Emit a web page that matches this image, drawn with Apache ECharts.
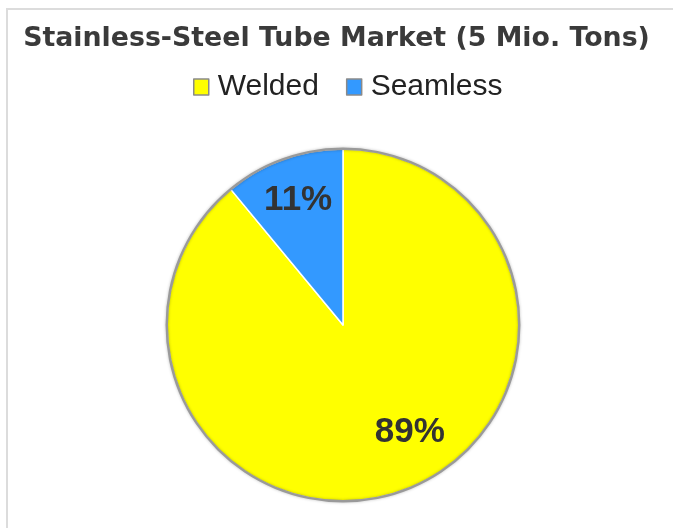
<!DOCTYPE html>
<html>
<head>
<meta charset="utf-8">
<script src="https://cdn.jsdelivr.net/npm/echarts@6/dist/echarts.min.js"></script>
<style>
  html, body { margin: 0; padding: 0; background: #fff; }
  #main { width: 673px; height: 528px; }
</style>
</head>
<body>
<div id="main"></div>
<script>
// 数据
var categories = ['Welded', 'Seamless'];
var shares = [89, 11];
var colorList = ['#ffff00', '#3399ff'];

var myChart = echarts.init(document.getElementById('main'));
var option = {
  animation: false,
  color: colorList,
  graphic: [{
    type: 'rect', // 外框
    shape: { x: 7, y: 9, width: 720, height: 600 },
    style: { fill: 'none', stroke: '#dcdcdc', lineWidth: 2 },
    silent: true
  }],
  title: {
    text: 'Stainless-Steel Tube Market (5 Mio. Tons)',
    left: 'center',
    top: 21,
    textStyle: {
      fontFamily: 'DejaVu Sans',
      fontWeight: 'bold',
      fontSize: 26.8,
      color: '#3a3a3a'
    }
  },
  legend: {
    data: categories,
    top: 67,
    left: 188,
    icon: 'rect',
    itemWidth: 15,
    itemHeight: 16,
    itemGap: 27,
    itemStyle: { borderColor: '#8a8a8a', borderWidth: 1.5 },
    textStyle: { fontFamily: 'Liberation Sans', fontSize: 30, color: '#222', padding: [0, 0, 0, 4] }
  },
  series: [
    {
      name: 'market',
      type: 'pie',
      center: [343, 325],
      radius: 176,
      startAngle: 90,
      clockwise: true,
      z: 2,
      itemStyle: { borderColor: '#fff', borderWidth: 1.5 },
      label: {
        show: true,
        position: 'inside',
        formatter: '{c}%',
        fontFamily: 'Liberation Sans',
        fontWeight: 'bold',
        fontSize: 35,
        color: '#333'
      },
      labelLine: { show: false },
      data: categories.map(function (name, idx) {
        var item = { name: name, value: shares[idx] };
        // 标签位置微调
        item.label = { offset: idx === 0 ? [36, 22] : [-14, -39] };
        return item;
      })
    },
    {
      // 外圈灰色描边
      name: 'rim',
      type: 'pie',
      center: [343, 325],
      radius: [175, 177.5],
      silent: true,
      z: 3,
      label: { show: false },
      labelLine: { show: false },
      itemStyle: { color: '#9a9a9a', shadowBlur: 3, shadowColor: 'rgba(0,0,0,0.25)' },
      data: [{ name: 'rim', value: 1 }]
    }
  ]
};
myChart.setOption(option);
</script>
</body>
</html>
